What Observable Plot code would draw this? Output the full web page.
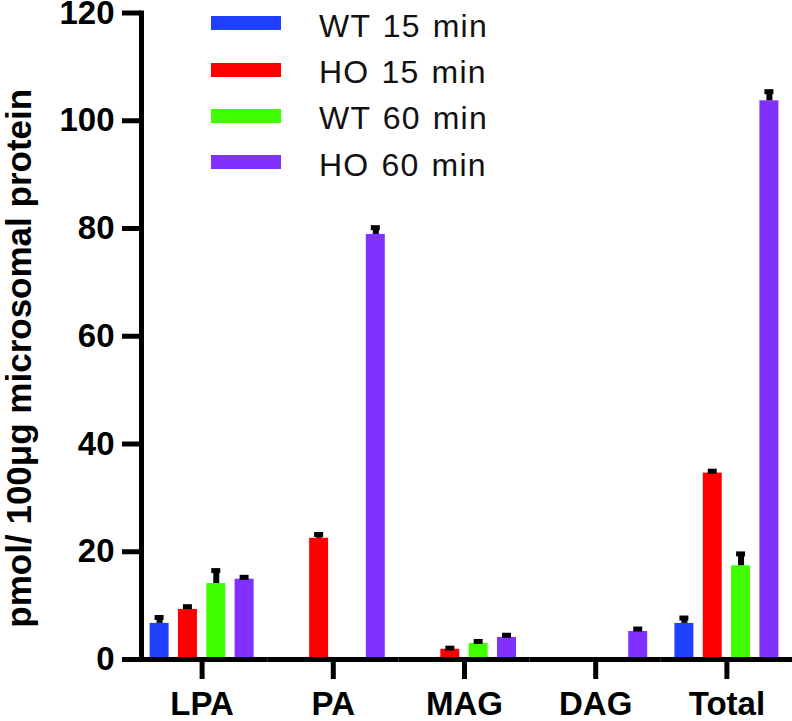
<!DOCTYPE html>
<html>
<head>
<meta charset="utf-8">
<script src="https://cdn.jsdelivr.net/npm/d3@7"></script>
<script src="https://cdn.jsdelivr.net/npm/@observablehq/plot@0.6"></script>
<style>
  html, body { margin: 0; padding: 0; background: #fff; }
  #wrap { position: relative; width: 792px; height: 721px; font-family: "Liberation Sans", Arial, Helvetica, sans-serif; }
  #legend { position: absolute; left: 211px; top: 0px; }
  .row { display: flex; align-items: center; height: 46.4px; }
  .sw { width: 70px; height: 14px; }
  .lab { margin-left: 38px; font-size: 32px; letter-spacing: 1.2px; word-spacing: 2px; color: #111; position: relative; top: 3px; white-space: nowrap; }
</style>
</head>
<body>
<div id="wrap"></div>
<script>
const categories = ["LPA", "PA", "MAG", "DAG", "Total"];
const series = ["WT 15 min", "HO 15 min", "WT 60 min", "HO 60 min"];
const colors = ["#2040ff", "#ff0000", "#40ff00", "#8030ff"];

// values per category (LPA, PA, MAG, DAG, Total); null = no bar
const wt15 = [6.7, null, null, null, 6.7];
const ho15 = [9.3, 22.5, 1.9, null, 34.6];
const wt60 = [14.1, null, 3.0, null, 17.4];
const ho60 = [14.9, 78.9, 4.1, 5.2, 103.7];

// upper error (SEM)
const wt15Err = [1.1, null, null, null, 1.0];
const ho15Err = [0.5, 0.7, 0.2, null, 0.35];
const wt60Err = [2.4, null, 0.35, null, 2.2];
const ho60Err = [0.35, 1.25, 0.4, 0.45, 1.7];

const yTicks = [0, 20, 40, 60, 80, 100, 120];
const yLabel = "pmol/ 100\u03bcg microsomal protein";

const valueSets = [wt15, ho15, wt60, ho60];
const errSets = [wt15Err, ho15Err, wt60Err, ho60Err];
const data = [];
categories.forEach((c, i) => {
  series.forEach((s, j) => {
    const v = valueSets[j][i];
    if (v != null) data.push({category: c, series: s, value: v, err: errSets[j][i]});
  });
});

const font = "Liberation Sans, Arial, Helvetica, sans-serif";

const chart = Plot.plot({
  width: 792,
  height: 721,
  marginLeft: 136,
  marginRight: 0,
  marginTop: 12.5,
  marginBottom: 62,
  style: {fontFamily: font, background: "white", color: "black", overflow: "visible"},
  fx: {domain: categories, paddingInner: 0, paddingOuter: 0, round: false, label: null},
  x: {domain: series, paddingInner: 0.33, paddingOuter: 0.48, round: false, axis: null},
  y: {domain: [0, 120], label: null},
  color: {domain: series, range: colors},
  marks: [
    Plot.barY(data, {fx: "category", x: "series", y: "value", fill: "series"}),
    Plot.ruleX(data, {fx: "category", x: "series", y1: "value", y2: d => d.value + d.err, stroke: "black", strokeWidth: 6}),
    Plot.tickY(data, {fx: "category", x: "series", y: d => d.value + d.err, stroke: "black", strokeWidth: 5, insetLeft: 5, insetRight: 5}),
    Plot.ruleY([0], {stroke: "black", strokeWidth: 5}),
    Plot.frame({anchor: "left", facetAnchor: "left", stroke: "black", strokeWidth: 5, dx: 5}),
    Plot.axisY({ticks: yTicks, tickFormat: d => String(d), anchor: "left", dx: 5, tickSize: 19, tickPadding: 8, fontSize: 33, fontWeight: "bold", strokeWidth: 5, label: null}),
    Plot.text([yLabel], {text: d => d, frameAnchor: "left", facetAnchor: "left", rotate: -90, textAnchor: "middle", lineAnchor: "top", dx: -130, dy: 22, fontSize: 35, fontWeight: "bold", fill: "black"}),
    Plot.axisFx({anchor: "bottom", tickSize: 20, tickPadding: 12, fontSize: 33, fontWeight: "bold", strokeWidth: 5, label: null})
  ]
});

const wrap = document.getElementById("wrap");
wrap.appendChild(chart);

const legend = document.createElement("div");
legend.id = "legend";
series.forEach((s, j) => {
  const row = document.createElement("div");
  row.className = "row";
  const sw = document.createElement("div");
  sw.className = "sw";
  sw.style.background = colors[j];
  const lab = document.createElement("span");
  lab.className = "lab";
  lab.textContent = s;
  row.appendChild(sw);
  row.appendChild(lab);
  legend.appendChild(row);
});
wrap.appendChild(legend);
</script>
</body>
</html>
